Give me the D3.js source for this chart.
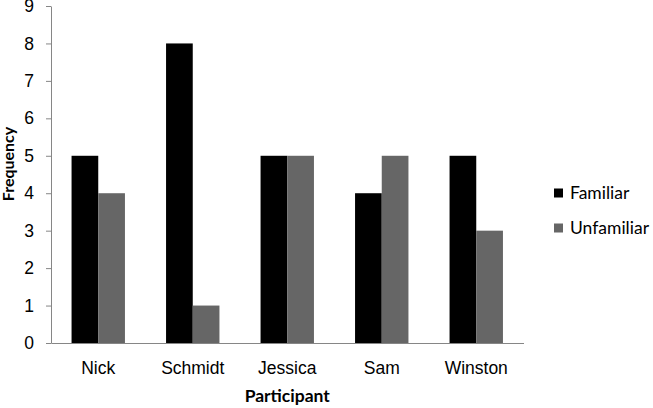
<!DOCTYPE html>
<html>
<head>
<meta charset="utf-8">
<script src="https://cdn.jsdelivr.net/npm/d3@7"></script>
<style>
  body { margin: 0; background: #fff; }
  svg { font-family: Lato, "Open Sans", sans-serif; }
</style>
</head>
<body>
<svg id="chart"></svg>
<script>
var participants = ["Nick", "Schmidt", "Jessica", "Sam", "Winston"];
var familiar = [5, 8, 5, 4, 5];
var unfamiliar = [4, 1, 5, 5, 3];
var seriesNames = ["Familiar", "Unfamiliar"];
var yTicks = [0, 1, 2, 3, 4, 5, 6, 7, 8, 9];

var width = 653, height = 408;
var margin = { top: 6, right: 130, bottom: 65, left: 51 };
var fontSize = 17.5;

var svg = d3.select("#chart")
  .attr("width", width)
  .attr("height", height);

var data = participants.map(function(p, i) {
  return { name: p, Familiar: familiar[i], Unfamiliar: unfamiliar[i] };
});

var color = d3.scaleOrdinal()
  .domain(seriesNames)
  .range(["#000000", "#666666"]);

var x = d3.scaleBand()
  .domain(participants)
  .range([margin.left, 523.5])
  .paddingInner(0)
  .paddingOuter(0);

var x1 = d3.scaleBand()
  .domain(seriesNames)
  .range([0, x.bandwidth()])
  .paddingOuter(0.77)
  .paddingInner(0);

var y = d3.scaleLinear()
  .domain([0, 9])
  .range([height - margin.bottom, margin.top]);

// bars
svg.append("g").selectAll("g")
  .data(data)
  .join("g")
  .attr("transform", d => `translate(${x(d.name)},0)`)
  .selectAll("rect")
  .data(d => seriesNames.map(k => ({ key: k, value: d[k] })))
  .join("rect")
  .attr("x", d => x1(d.key))
  .attr("width", x1.bandwidth())
  .attr("y", d => y(d.value))
  .attr("height", d => y(0) - y(d.value))
  .attr("fill", d => color(d.key));

// y axis
var yAxis = svg.append("g")
  .attr("transform", `translate(${margin.left},0)`)
  .call(d3.axisLeft(y).tickValues(yTicks).tickSize(5).tickSizeOuter(0).tickPadding(12));
yAxis.select(".domain").attr("stroke", "#868686");
yAxis.selectAll(".tick line").attr("stroke", "#868686");
yAxis.selectAll(".tick text").attr("font-size", fontSize).attr("fill", "#000");

// x axis
var xAxis = svg.append("g")
  .attr("transform", `translate(0,${y(0)})`)
  .call(d3.axisBottom(x).tickSize(0).tickSizeOuter(0).tickPadding(19));
xAxis.select(".domain").attr("stroke", "#868686");
xAxis.selectAll(".tick text").attr("font-size", fontSize).attr("fill", "#000");

// axis titles
svg.append("text")
  .attr("x", (margin.left + 523.5) / 2)
  .attr("y", 402)
  .attr("text-anchor", "middle")
  .attr("font-size", fontSize)
  .attr("font-weight", "bold")
  .text("Participant");

svg.append("text")
  .attr("transform", "translate(14,164) rotate(-90)")
  .attr("text-anchor", "middle")
  .attr("font-size", 16)
  .attr("font-weight", "bold")
  .text("Frequency");

// legend
var legend = svg.append("g").selectAll("g")
  .data(seriesNames)
  .join("g")
  .attr("transform", (d, i) => `translate(554,${193 + i * 35})`);

legend.append("rect")
  .attr("x", 0)
  .attr("y", -4.5)
  .attr("width", 9)
  .attr("height", 9)
  .attr("fill", d => color(d));

legend.append("text")
  .attr("x", 16)
  .attr("y", 0)
  .attr("dy", "0.35em")
  .attr("font-size", fontSize)
  .text(d => d);
</script>
</body>
</html>
